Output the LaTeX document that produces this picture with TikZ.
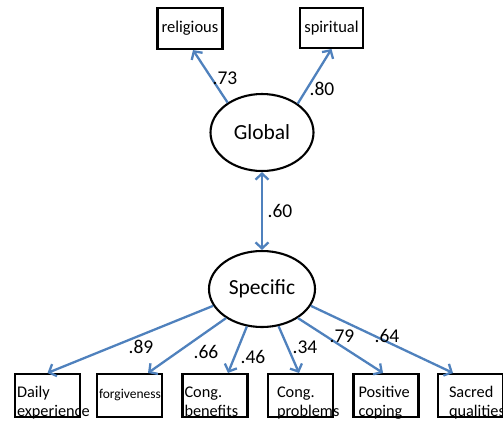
\documentclass[tikz,border=0pt]{standalone}
\usepackage{fontspec}
\setmainfont{Carlito}
\usetikzlibrary{arrows.meta,shapes.geometric}
\definecolor{arrowblue}{RGB}{79,129,189}
\begin{document}
\begin{tikzpicture}[x=1pt,y=-1pt,
  topbox/.style={draw, line width=2.1pt, minimum width=65pt, minimum height=41pt, inner sep=0pt,
    font=\fontsize{16.5}{19}\selectfont},
  botbox/.style={draw, line width=2.1pt, minimum height=43pt, align=left, inner ysep=0pt,
    text height=20pt, text depth=16pt, font=\fontsize{16.3}{18.5}\selectfont},
  latent/.style={draw, ellipse, line width=2.1pt, inner sep=0pt, font=\fontsize{21.5}{25}\selectfont},
  conn/.style={draw=arrowblue, line width=2.3pt, -{Straight Barb[length=6pt,width=13pt]}},
  dconn/.style={draw=arrowblue, line width=2.3pt, {Straight Barb[length=6pt,width=13pt]}-{Straight Barb[length=6pt,width=13pt]}},
  lbl/.style={inner sep=0pt, font=\fontsize{19.5}{22}\selectfont}
]
\useasboundingbox (0,0) rectangle (503,421);

% latent variables
\node[latent, minimum width=103pt, minimum height=77pt] (glob) at (262,132.5) {Global};
\node[latent, minimum width=106pt, minimum height=76pt] (spec) at (262,289) {Specific};

% top indicators
\node[topbox] (rel) at (190,28.5) {religious};
\node[topbox, minimum width=63pt, minimum height=40pt] (spir) at (331.5,28) {spiritual};

% bottom indicators
\node[botbox, inner xsep=2pt, text width=61pt] (daily) at (47.5,395.5) {Daily\\experience};
\node[botbox, inner xsep=2pt, text width=61pt, align=center, font=\fontsize{13.5}{16}\selectfont,
  text height=13.5pt, text depth=8.5pt] (forg) at (129.5,395.5) {forgiveness};
\node[botbox, inner xsep=2pt, text width=61pt] (benef) at (215,395.5) {Cong.\\benefits};
\node[botbox, inner xsep=9pt, text width=47pt] (probl) at (300.5,395.5) {Cong.\\problems};
\node[botbox, inner xsep=5pt, text width=55pt] (posit) at (386,395.5) {Positive\\coping};
\node[botbox, inner xsep=11pt, text width=43pt] (sacred) at (470.5,395.5) {Sacred\\qualities};

% connectors
\draw[conn] (glob.139.7) -- ([xshift=3pt]rel.south);
\draw[conn] (glob.39.3) -- (spir.south);
\draw[dconn] (glob.south) -- (spec.north);

\draw[conn] (spec.199) -- (daily.north);
\draw[conn] (spec.219) -- ([xshift=18.5pt]forg.north);
\draw[conn] (spec.248) -- ([xshift=13pt]benef.north);
\draw[conn] (spec.294) -- ([xshift=-1.5pt]probl.north);
\draw[conn] (spec.321) -- ([xshift=-3pt]posit.north);
\draw[conn] (spec.341) -- ([xshift=-17.5pt]sacred.north);

% loadings
\node[lbl] (l73) at (225,78) {.73};
\node[lbl] (l80) at (322,89) {.80};
\node[lbl] (l60) at (280,211) {.60};
\node[lbl] (l89) at (141,347) {.89};
\node[lbl] (l66) at (206,352) {.66};
\node[lbl] (l46) at (253,357) {.46};
\node[lbl] (l34) at (305,347) {.34};
\node[lbl] (l79) at (342,336) {.79};
\node[lbl] (l64) at (387,336) {.64};
\end{tikzpicture}
\end{document}
